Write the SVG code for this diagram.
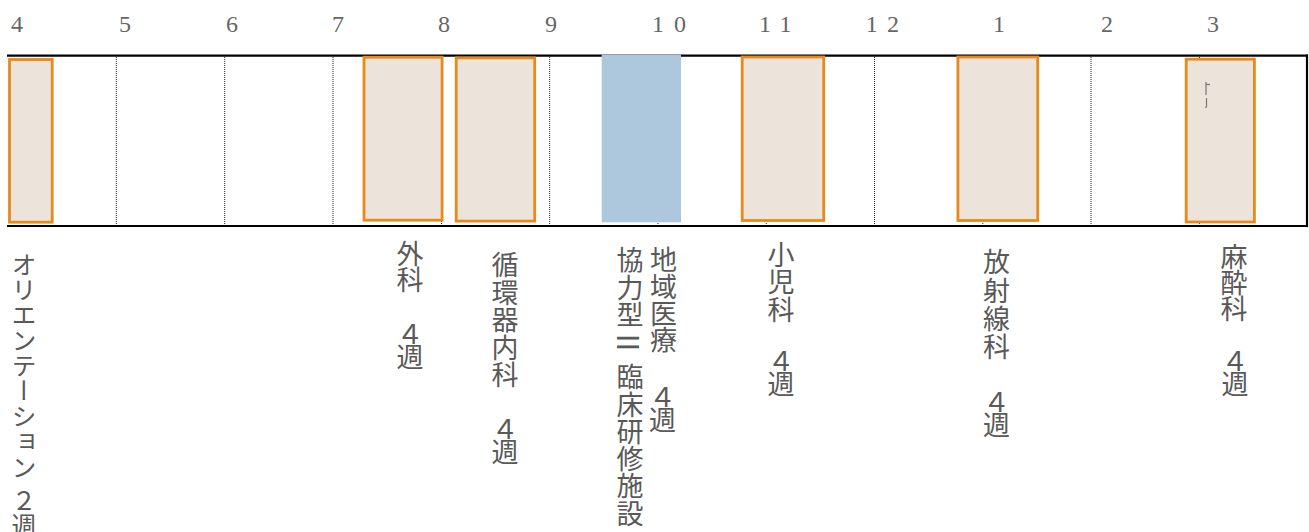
<svg xmlns="http://www.w3.org/2000/svg" width="1309" height="532" viewBox="0 0 1309 532">
<style>
.num{font-family:"Liberation Serif","Noto Serif",serif;font-size:24px;fill:#666666;text-anchor:middle}
.lbl{font-family:"Noto Sans CJK JP","Noto Sans",sans-serif;font-size:27px;fill:#595959;writing-mode:vertical-rl}
.box{fill:#ECE4DA;stroke:#E8891C;stroke-width:2.8}
.grid{stroke:#222;stroke-width:1;stroke-dasharray:1 1}
.frame{stroke:#000;stroke-width:2.2;fill:none}
.w4{letter-spacing:-4.5px}
</style>
<rect width="1309" height="532" fill="#fff"/>
<g id="months">
<text class="num" x="17" y="32">4</text>
<text class="num" x="125" y="32">5</text>
<text class="num" x="232" y="32">6</text>
<text class="num" x="338" y="32">7</text>
<text class="num" x="444" y="32">8</text>
<text class="num" x="551" y="32">9</text>
<text class="num" x="658 680" y="32">10</text>
<text class="num" x="765 785.5" y="32">11</text>
<text class="num" x="871.7 893" y="32">12</text>
<text class="num" x="999" y="32">1</text>
<text class="num" x="1107" y="32">2</text>
<text class="num" x="1213" y="32">3</text>
</g>
<g id="grid">
<line class="grid" x1="116.3" y1="57" x2="116.3" y2="225"/>
<line class="grid" x1="224.7" y1="57" x2="224.7" y2="225"/>
<line class="grid" x1="333" y1="57" x2="333" y2="225"/>
<line class="grid" x1="441.5" y1="57" x2="441.5" y2="225"/>
<line class="grid" x1="549.7" y1="57" x2="549.7" y2="225"/>
<line class="grid" x1="658" y1="57" x2="658" y2="225"/>
<line class="grid" x1="766.3" y1="57" x2="766.3" y2="225"/>
<line class="grid" x1="874.5" y1="57" x2="874.5" y2="225"/>
<line class="grid" x1="982.8" y1="57" x2="982.8" y2="225"/>
<line class="grid" x1="1091" y1="57" x2="1091" y2="225"/>
<line class="grid" x1="1199.5" y1="57" x2="1199.5" y2="225"/>
</g>
<g id="frame">
<line class="frame" x1="7" y1="55.7" x2="1308" y2="55.7"/>
<line class="frame" x1="7" y1="226" x2="1308" y2="226"/>
<line class="frame" x1="1307" y1="54.6" x2="1307" y2="227.1"/>
</g>
<g id="orientation">
<rect class="box" x="9.5" y="59.5" width="42.7" height="162.7"/>
<text class="lbl" x="24" y="251.5" style="font-size:25px;letter-spacing:0.4px">オリエンテーション</text>
<text class="lbl" x="24" y="488" style="font-size:25px">２週</text>
</g>
<g id="geka">
<rect class="box" x="364" y="57.2" width="78.1" height="163"/>
<text class="lbl" x="410" y="240.5" style="letter-spacing:-1px">外科</text>
<text class="lbl w4" x="410" y="321">４週</text>
</g>
<g id="junkanki">
<rect class="box" x="456.2" y="57.9" width="78.5" height="163.2"/>
<text class="lbl" x="505" y="251.5" style="letter-spacing:0.5px">循環器内科</text>
<text class="lbl w4" x="505" y="416">４週</text>
</g>
<g id="chiiki">
<rect x="601.7" y="54.6" width="79.3" height="167.7" fill="#ADC7DC"/>
<text class="lbl" x="630" y="246.5" style="letter-spacing:0.5px">協力型</text>
<text x="0" y="0" transform="translate(630 342.5) rotate(90)" style="font-family:'Noto Sans CJK JP',sans-serif;font-size:30px;fill:#595959;text-anchor:middle;dominant-baseline:central">Ⅱ</text>
<text class="lbl" x="630" y="363.5" style="letter-spacing:0.3px">臨床研修施設</text>
<text class="lbl" x="663.5" y="246.5" style="letter-spacing:-0.3px">地域医療</text>
<text class="lbl w4" x="662.5" y="384">４週</text>
</g>
<g id="shonika">
<rect class="box" x="742.2" y="57" width="81.5" height="163.5"/>
<text class="lbl" x="781" y="241" style="letter-spacing:0.5px">小児科</text>
<text class="lbl w4" x="781" y="348">４週</text>
</g>
<g id="hoshasen">
<rect class="box" x="957.9" y="57" width="79.8" height="163.5"/>
<text class="lbl" x="996.5" y="248.5" style="letter-spacing:1.3px">放射線科</text>
<text class="lbl w4" x="996.5" y="389">４週</text>
</g>
<g id="masui">
<rect class="box" x="1186.2" y="59.2" width="68.2" height="162.8"/>
<g stroke="#777" stroke-width="1.2" fill="none">
<line x1="1206" y1="82" x2="1206" y2="95"/>
<line x1="1206" y1="84.5" x2="1210" y2="84.5"/>
<path d="M1206.5 98 L1206.5 106 L1205.5 108"/>
</g>
<text class="lbl" x="1234" y="243.5" style="letter-spacing:-1px">麻酔科</text>
<text class="lbl w4" x="1235" y="348">４週</text>
</g>
</svg>
